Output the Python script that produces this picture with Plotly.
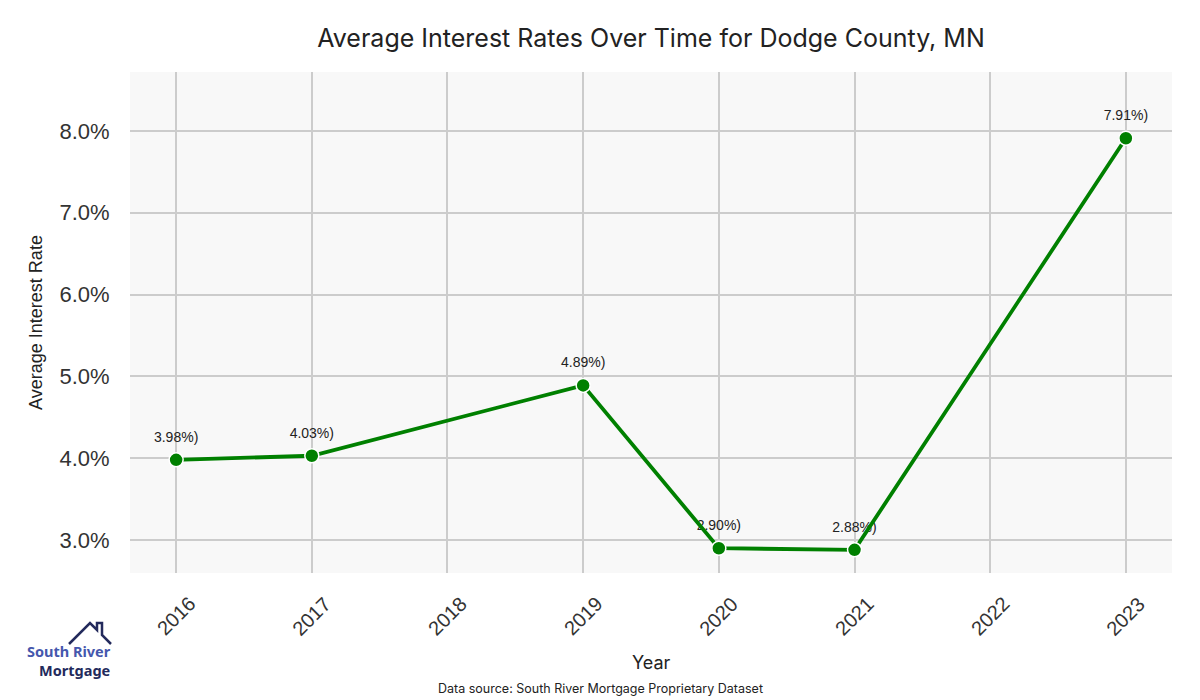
import plotly.graph_objects as go

years = [2016, 2017, 2019, 2020, 2021, 2023]
rates = [3.98, 4.03, 4.89, 2.90, 2.88, 7.91]
labels = ["3.98%)", "4.03%)", "4.89%)", "2.90%)", "2.88%)", "7.91%)"]
tick_years = [2016, 2017, 2018, 2019, 2020, 2021, 2022, 2023]
y_ticks = [3.0, 4.0, 5.0, 6.0, 7.0, 8.0]
y_tick_text = ["3.0%", "4.0%", "5.0%", "6.0%", "7.0%", "8.0%"]

# page body has an 8px margin: figure pixel = screen pixel - 8
OFF = 8
W, H = 1192, 692
L, T = 130 - OFF, 72 - OFF
R = W - (1172 - OFF)
B = H - (573 - OFF)
PW, PH = W - L - R, H - T - B

def px(x):
    return (x - OFF - L) / PW

def py(y):
    return (H - B - (y - OFF)) / PH

fig = go.Figure()

fig.add_trace(go.Scatter(
    x=years, y=rates, mode="markers+text", text=labels,
    textposition="top center",
    marker=dict(size=22, color="rgba(0,0,0,0)"),
    textfont=dict(family="Liberation Sans, Arial", size=14, color="#222222"),
    hoverinfo="skip", showlegend=False,
))
fig.add_trace(go.Scatter(
    x=years, y=rates, mode="lines+markers",
    line=dict(color="#008000", width=3.8),
    marker=dict(size=14, color="#008000", line=dict(color="white", width=1.5)),
    showlegend=False,
))

fig.update_layout(
    width=W, height=H,
    margin=dict(l=L, r=R, t=T, b=B, autoexpand=False),
    paper_bgcolor="white",
    plot_bgcolor="#f8f8f8",
    title=dict(text="Average Interest Rates Over Time for Dodge County, MN",
               xref="paper", x=px(651), xanchor="center",
               yref="container", y=1 - (38 - OFF) / H, yanchor="middle",
               font=dict(family="Inter, Lato, sans-serif", size=25, color="#222222")),
    xaxis=dict(range=[2015.66, 2023.34], tickvals=tick_years, showticklabels=False,
               showgrid=True, gridcolor="#cccccc", gridwidth=1.5, zeroline=False, showline=False,
               ticks=""),
    yaxis=dict(range=[2.597, 8.72], tickvals=y_ticks, ticktext=y_tick_text,
               tickfont=dict(family="Liberation Sans, Arial", size=22, color="#333333"),
               showgrid=True, gridcolor="#cccccc", gridwidth=1.5, zeroline=False, showline=False,
               ticks="outside", ticklen=15, tickcolor="rgba(0,0,0,0)",
               title=dict(text="Average Interest Rate", font=dict(family="Liberation Sans, Arial", size=18, color="#222222"), standoff=12)),
)

# rotated x tick labels, centred under each tick
for yr in tick_years:
    fig.add_annotation(text=str(yr), xref="x", yref="paper", x=yr, y=py(616),
                       xanchor="center", yanchor="middle", textangle=-45, showarrow=False,
                       font=dict(family="Liberation Sans, Arial", size=20, color="#333333"))

# x axis title
fig.add_annotation(text="Year", xref="paper", yref="paper", x=px(651), y=py(662),
                   xanchor="center", yanchor="middle", showarrow=False,
                   font=dict(family="Inter, Lato, sans-serif", size=18, color="#222222"))

# Data source
fig.add_annotation(text="Data source: South River Mortgage Proprietary Dataset",
                   xref="paper", yref="paper", x=px(600), y=py(688), xanchor="center", yanchor="middle",
                   showarrow=False, font=dict(family="Inter, Lato, sans-serif", size=12.5, color="#222222"))

# Logo
fig.add_annotation(text="<b><span style='color:#4557ad'>South River</span><br>Mortgage</b>",
                   xref="paper", yref="paper", x=px(112), y=py(660),
                   xanchor="right", yanchor="middle", align="right", showarrow=False, borderpad=0,
                   font=dict(family="Noto Sans, sans-serif", size=14.5, color="#232a5c"))
roof = [(69, 644), (90, 623), (97, 630), (97, 623), (102, 623), (102, 635), (111, 644)]
path = "M " + " L ".join(f"{px(a):.5f},{py(b):.5f}" for a, b in roof)
fig.add_shape(type="path", path=path, xref="paper", yref="paper",
              line=dict(color="#232a5c", width=2.5))

fig.write_html("out.html")
